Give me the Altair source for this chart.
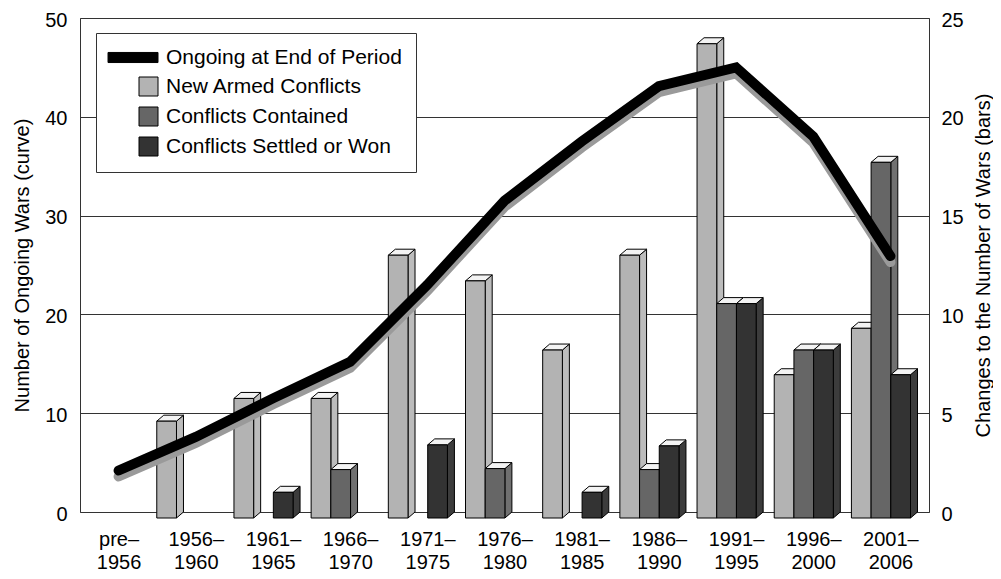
import altair as alt
import pandas as pd

# ---------------- data ----------------
period_start = ["pre–", "1956–", "1961–", "1966–", "1971–", "1976–",
                "1981–", "1986–", "1991–", "1996–", "2001–"]
period_end = ["1956", "1960", "1965", "1970", "1975", "1980",
              "1985", "1990", "1995", "2000", "2006"]

# curve, left axis
ongoing = [4.2, 7.6, 11.5, 15.2, 23.0, 31.5, 37.5, 43.1, 45.0, 38.0, 25.9]
# bars, right axis
new_conflicts = [0, 4.9, 6.05, 6.05, 13.3, 12.0, 8.5, 13.3, 24.0, 7.25, 9.6]
contained = [0, 0, 0, 2.45, 0, 2.5, 0, 2.45, 10.85, 8.5, 18.0]
settled = [0, 0, 1.3, 0, 3.7, 0, 1.3, 3.65, 10.85, 8.5, 7.25]

series_names = ["Ongoing at End of Period", "New Armed Conflicts",
                "Conflicts Contained", "Conflicts Settled or Won"]
front_colors = ["#000000", "#b3b3b3", "#666666", "#333333"]
side_colors = ["#bcbcbc", "#707070", "#3c3c3c"]
top_color = "#f3f3f3"

FONT = "Liberation Sans"
FS = 20
PLOT_W, PLOT_H = 849, 494
N = len(period_start)
X_PX = PLOT_W / N            # px per x unit
BAR_MAX = 25
Y_PX = PLOT_H / BAR_MAX      # px per bar unit
BAR_W = 19.7 / X_PX
GROUP_LEFT = -39.0 / X_PX
DX = 7.0 / X_PX              # 3-D depth, horizontal
DY = 6.0 / Y_PX              # 3-D depth, vertical

# ---------------- tables built from the lists ----------------
line_df = pd.DataFrame({"x": [i + 0.5 for i in range(N)], "ongoing": ongoing})

front_rows, top_rows, side_rows = [], [], []
bar_series = [new_conflicts, contained, settled]
for i in range(N):
    for j, vals in enumerate(bar_series):
        v = vals[i]
        if v <= 0:
            continue
        bid = f"{i}-{j}"
        x0 = i + 0.5 + GROUP_LEFT + j * BAR_W
        x1 = x0 + BAR_W
        front_rows.append(dict(bar=bid, x=x0, x2=x1, y=v - DY, y2=-DY,
                               c=front_colors[j + 1]))
        top_rows.append(dict(bar=bid, y=v - DY, x=x0, x2=x1))
        top_rows.append(dict(bar=bid, y=v, x=x0 + DX, x2=x1 + DX))
        side_rows.append(dict(bar=bid, x=x1, y=-DY, y2=v - DY, c=side_colors[j]))
        side_rows.append(dict(bar=bid, x=x1 + DX, y=0, y2=v, c=side_colors[j]))

front_df = pd.DataFrame(front_rows)
top_df = pd.DataFrame(top_rows)
side_df = pd.DataFrame(side_rows)

# ---------------- scales / axes ----------------
label_arr = "[" + ",".join(f"['{a}','{b}']" for a, b in zip(period_start, period_end)) + "]"
x_scale = alt.Scale(domain=[0, N], nice=False, zero=False)
x_axis = alt.Axis(values=[i + 0.5 for i in range(N)],
                  labelExpr=f"{label_arr}[round(datum.value - 0.5)]",
                  grid=False, ticks=False, domain=False, title=None,
                  labelFont=FONT, labelFontSize=FS, labelColor="black",
                  labelPadding=17, labelLineHeight=23, labelBaseline="top")

bar_scale = alt.Scale(domain=[0, BAR_MAX], nice=False)
bar_axis = alt.Axis(orient="right", values=[0, 5, 10, 15, 20, 25], grid=False,
                    ticks=False, domain=False,
                    title="Changes to the Number of Wars (bars)",
                    labelFont=FONT, labelFontSize=FS, labelColor="black",
                    labelPadding=12, labelOffset=2,
                    titleFont=FONT, titleFontSize=FS,
                    titleFontWeight="normal", titleColor="black",
                    titlePadding=10, titleAngle=270, titleBaseline="top")

line_scale = alt.Scale(domain=[0, 50], nice=False)
line_axis = alt.Axis(orient="left", values=[0, 10, 20, 30, 40, 50], grid=True,
                     gridColor="#333333", gridWidth=1, gridOpacity=1,
                     ticks=False, domain=False,
                     title="Number of Ongoing Wars (curve)",
                     labelFont=FONT, labelFontSize=FS, labelColor="black",
                     labelPadding=13, labelOffset=2,
                     titleFont=FONT, titleFontSize=FS,
                     titleFontWeight="normal", titleColor="black",
                     titlePadding=12)

# ---------------- bars (3-D look) ----------------
sides = alt.Chart(side_df).mark_area(orient="vertical", stroke="black",
                                     strokeWidth=1, opacity=1).encode(
    x=alt.X("x:Q", scale=x_scale, axis=x_axis),
    y=alt.Y("y:Q", scale=bar_scale, axis=bar_axis),
    y2="y2:Q",
    detail="bar:N",
    fill=alt.Fill("c:N", scale=None),
)
tops = alt.Chart(top_df).mark_area(orient="horizontal", stroke="black",
                                   strokeWidth=1, fill=top_color, opacity=1).encode(
    y=alt.Y("y:Q", scale=bar_scale, axis=bar_axis),
    x=alt.X("x:Q", scale=x_scale, axis=x_axis),
    x2="x2:Q",
    detail="bar:N",
)
fronts = alt.Chart(front_df).mark_rect(stroke="black", strokeWidth=1).encode(
    x=alt.X("x:Q", scale=x_scale, axis=x_axis),
    x2="x2:Q",
    y=alt.Y("y:Q", scale=bar_scale, axis=bar_axis),
    y2="y2:Q",
    fill=alt.Fill("c:N", scale=None),
)
bars = alt.layer(sides, tops, fronts)

# ---------------- curve ----------------
shadow = alt.Chart(line_df).mark_line(color="#9a9a9a", strokeWidth=10,
                                      strokeCap="round", strokeJoin="miter",
                                      yOffset=6).encode(
    x=alt.X("x:Q", scale=x_scale, axis=x_axis),
    y=alt.Y("ongoing:Q", scale=line_scale, axis=line_axis),
)
curve = alt.Chart(line_df).mark_line(color="black", strokeWidth=10,
                                     strokeCap="round", strokeJoin="miter").encode(
    x=alt.X("x:Q", scale=x_scale, axis=x_axis),
    y=alt.Y("ongoing:Q", scale=line_scale, axis=line_axis),
)

# ---------------- legend ----------------
line_swatch = "M-4.26,-0.53H1V0.53H-4.26Z"
leg = alt.Legend(title=None, orient="none", legendX=16, legendY=15,
                 fillColor="white", strokeColor="#333333", padding=14,
                 labelFont=FONT, labelFontSize=21, labelColor="black",
                 labelLimit=0,
                 symbolSize=361, symbolOffset=28, rowPadding=7,
                 labelOffset=7, symbolStrokeColor="black",
                 symbolStrokeWidth=1, symbolOpacity=1)
legend_df = pd.DataFrame({"series": series_names})
legend_layer = alt.Chart(legend_df).transform_filter("false").mark_point(
    filled=True, stroke="black", strokeWidth=1).encode(
    fill=alt.Fill("series:N", sort=series_names,
                  scale=alt.Scale(domain=series_names, range=front_colors),
                  legend=leg),
    shape=alt.Shape("series:N", sort=series_names,
                    scale=alt.Scale(domain=series_names,
                                    range=[line_swatch, "square", "square", "square"]),
                    legend=leg),
)

lines = alt.layer(shadow, curve, legend_layer)

chart = alt.layer(bars, lines).resolve_scale(y="independent").properties(
    width=PLOT_W, height=PLOT_H,
    autosize=alt.AutoSizeParams(type="none"),
    padding={"left": 72, "top": 10, "right": 64, "bottom": 59},
).configure_view(fill="#d9d9d9", stroke="#333333", strokeWidth=1)

chart.save("out.html", embed_options={"renderer": "svg", "actions": False})
